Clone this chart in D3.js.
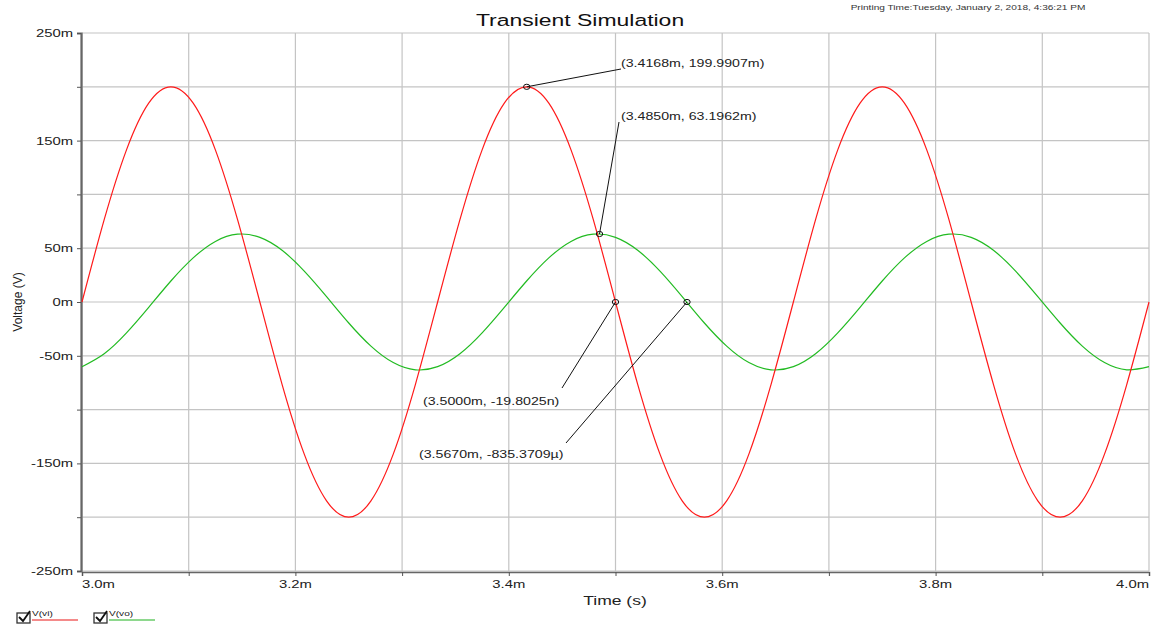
<!DOCTYPE html>
<html lang="en">
	<head>
		<meta charset="utf-8">
		<title>Transient Simulation</title>
		<script type="text/javascript" src="https://cdn.jsdelivr.net/npm/d3@7"></script>
		<style type="text/css">
			body { margin: 0; background: #fff; }
			text { font-family: "Liberation Sans", Arial, sans-serif; fill: #222; }
		</style>
	</head>
	<body>
		<script type="text/javascript">

			//Width and height
			var w = 1151;
			var h = 627;

			//Sample times (ms)
			var times = [3.0000, 3.0208, 3.0417, 3.0625, 3.0833, 3.1042, 3.1250, 3.1458,
				3.1667, 3.1875, 3.2083, 3.2292, 3.2500, 3.2708, 3.2917, 3.3125,
				3.3333, 3.3542, 3.3750, 3.3958, 3.4167, 3.4375, 3.4583, 3.4792,
				3.5000, 3.5208, 3.5417, 3.5625, 3.5833, 3.6042, 3.6250, 3.6458,
				3.6667, 3.6875, 3.7083, 3.7292, 3.7500, 3.7708, 3.7917, 3.8125,
				3.8333, 3.8542, 3.8750, 3.8958, 3.9167, 3.9375, 3.9583, 3.9792, 4.0000];

			//V(vi) in mV
			var vi = [0, 76.5, 141.4, 184.8, 200, 184.8, 141.4, 76.5,
				0, -76.5, -141.4, -184.8, -200, -184.8, -141.4, -76.5,
				0, 76.5, 141.4, 184.8, 200, 184.8, 141.4, 76.5,
				0, -76.5, -141.4, -184.8, -200, -184.8, -141.4, -76.5,
				0, 76.5, 141.4, 184.8, 200, 184.8, 141.4, 76.5,
				0, -76.5, -141.4, -184.8, -200, -184.8, -141.4, -76.5, 0];

			//V(vo) in mV
			var vo = [-60.1, -48.1, -28.7, -5.0, 19.5, 41.0, 56.3, 63.0,
				60.1, 48.1, 28.7, 5.0, -19.5, -41.0, -56.3, -63.0,
				-60.1, -48.1, -28.7, -5.0, 19.5, 41.0, 56.3, 63.0,
				60.1, 48.1, 28.7, 5.0, -19.5, -41.0, -56.3, -63.0,
				-60.1, -48.1, -28.7, -5.0, 19.5, 41.0, 56.3, 63.0,
				60.1, 48.1, 28.7, 5.0, -19.5, -41.0, -56.3, -63.0, -60.1];

			var xTickLabels = [3.0, 3.2, 3.4, 3.6, 3.8, 4.0];
			var yTickLabels = [250, 150, 50, 0, -50, -150, -250];

			var seriesNames = ["V(vi)", "V(vo)"];
			var seriesColors = ["#ff1a1a", "#22bb22"];
			var legendColors = ["#f48a8a", "#8ed88e"];

			//Cursor readouts
			var markT = [3.4168, 3.4850, 3.5000, 3.5670];
			var markV = [199.9907, 63.1962, 0, 0];
			var markText = ["(3.4168m, 199.9907m)", "(3.4850m, 63.1962m)", "(3.5000m, -19.8025n)", "(3.5670m, -835.3709\u00b5)"];

			var sx = 1.35; //text in the picture is stretched sideways

			var plotL = 82, plotR = 1149, plotT = 33, plotB = 571;

			var xScale = d3.scaleLinear().domain([3.0, 4.0]).range([plotL, plotR]);
			var yScale = d3.scaleLinear().domain([-250, 250]).range([plotB, plotT]);

			var svg = d3.select("body")
						.append("svg")
						.attr("width", w)
						.attr("height", h);

			function label(x, y, str, size, anchor, color) {
				return svg.append("text")
					.attr("transform", "translate(" + x + "," + y + ") scale(" + sx + ",1)")
					.attr("font-size", size)
					.attr("text-anchor", anchor || "start")
					.style("fill", color || "#222")
					.text(str);
			}

			//Grid
			var xGrid = d3.range(3.0, 4.0001, 0.1);
			var yGrid = d3.range(-250, 250.1, 50);

			svg.selectAll(".vgrid")
				.data(xGrid)
				.enter()
				.append("line")
				.attr("x1", function(d) { return xScale(d); })
				.attr("x2", function(d) { return xScale(d); })
				.attr("y1", plotT)
				.attr("y2", plotB)
				.attr("stroke", "#c4c4c4")
				.attr("stroke-width", 1.2);

			svg.selectAll(".hgrid")
				.data(yGrid)
				.enter()
				.append("line")
				.attr("x1", plotL)
				.attr("x2", plotR)
				.attr("y1", function(d) { return yScale(d); })
				.attr("y2", function(d) { return yScale(d); })
				.attr("stroke", "#c4c4c4")
				.attr("stroke-width", 1.2);

			//Axes
			var yAxis = d3.axisLeft(yScale).tickValues(yGrid).tickSize(4).tickFormat("");
			var xAxis = d3.axisBottom(xScale).tickValues(xGrid).tickSize(4).tickFormat("");

			var gy = svg.append("g")
				.attr("transform", "translate(" + (plotL - 1) + ",0)")
				.call(yAxis);
			gy.select(".domain").attr("stroke", "#666").attr("stroke-width", 2.2);
			gy.selectAll(".tick line").attr("stroke", "#555");

			var gx = svg.append("g")
				.attr("transform", "translate(0," + (plotB + 1) + ")")
				.call(xAxis);
			gx.select(".domain").attr("stroke", "#666").attr("stroke-width", 1.5);
			gx.selectAll(".tick line").attr("stroke", "#555");

			yTickLabels.forEach(function(v) {
				label(73, yScale(v) + 4, v + "m", 11, "end");
			});

			xTickLabels.forEach(function(v, i) {
				var anchor = i == 0 ? "start" : (i == xTickLabels.length - 1 ? "end" : "middle");
				label(xScale(v), 588, v.toFixed(1) + "m", 11, anchor);
			});

			//Series
			var line = d3.line()
				.curve(d3.curveNatural)
				.x(function(d, i) { return xScale(times[i]); })
				.y(function(d) { return yScale(d); });

			svg.append("path")
				.datum(vo)
				.attr("d", line)
				.attr("fill", "none")
				.attr("stroke", seriesColors[1])
				.attr("stroke-width", 1.2);

			svg.append("path")
				.datum(vi)
				.attr("d", line)
				.attr("fill", "none")
				.attr("stroke", seriesColors[0])
				.attr("stroke-width", 1.2);

			//Cursor readouts: leader lines, markers and text
			var textPos = [[621, 67], [621, 120], [423, 405], [419, 458]];
			var leadEnd = [[621, 69], [619, 122], [562, 388], [566, 443]];

			markT.forEach(function(t, i) {
				var mx = xScale(t), my = yScale(markV[i]);
				svg.append("line")
					.attr("x1", mx).attr("y1", my)
					.attr("x2", leadEnd[i][0]).attr("y2", leadEnd[i][1])
					.attr("stroke", "#111")
					.attr("stroke-width", 1);
				svg.append("ellipse")
					.attr("cx", mx).attr("cy", my)
					.attr("rx", 3.2).attr("ry", 2.6)
					.attr("fill", "none")
					.attr("stroke", "#111")
					.attr("stroke-width", 1);
				label(textPos[i][0], textPos[i][1], markText[i], 10.5, "start", "#222");
			});

			//Titles
			label(580, 26, "Transient Simulation", 17, "middle", "#111");
			label(968, 10, "Printing Time:Tuesday, January 2, 2018, 4:36:21 PM", 7.5, "middle", "#333");
			label(615, 605, "Time (s)", 13, "middle", "#222");

			svg.append("text")
				.attr("transform", "translate(22,302) rotate(-90)")
				.attr("font-size", 12)
				.attr("text-anchor", "middle")
				.text("Voltage (V)");

			//Legend
			var legendX = [17, 94];
			seriesNames.forEach(function(name, i) {
				var lx = legendX[i];
				svg.append("rect")
					.attr("x", lx).attr("y", 613)
					.attr("width", 13).attr("height", 10)
					.attr("fill", "#fff")
					.attr("stroke", "#333")
					.attr("stroke-width", 1.3);
				svg.append("path")
					.attr("d", "M" + (lx + 2) + ",617 L" + (lx + 6) + ",621 L" + (lx + 13) + ",611")
					.attr("fill", "none")
					.attr("stroke", "#111")
					.attr("stroke-width", 1.8);
				label(lx + 15, 616, name, 7.5, "start", "#222");
				svg.append("line")
					.attr("x1", lx + 15).attr("x2", lx + 61)
					.attr("y1", 620).attr("y2", 620)
					.attr("stroke", legendColors[i])
					.attr("stroke-width", 2);
			});

		</script>
	</body>
</html>
